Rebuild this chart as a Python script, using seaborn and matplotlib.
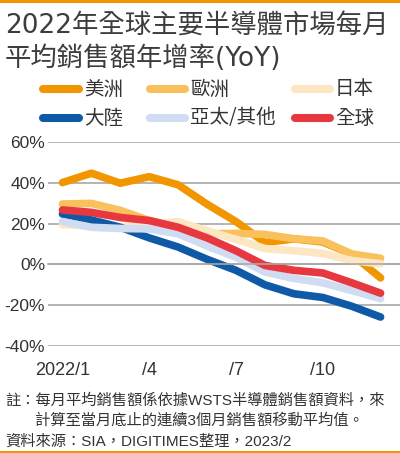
import numpy as np
import pandas as pd
import matplotlib.pyplot as plt
import matplotlib.transforms as mtransforms
from matplotlib.lines import Line2D
from matplotlib.patches import Rectangle
import seaborn as sns

# ---------------------------------------------------------------------------
# data (% YoY)
# ---------------------------------------------------------------------------
months = list(range(1, 13))
tick_months = [1, 4, 7, 10]
tick_labels = ["2022/1", "/4", "/7", "/10"]
y_ticks = [-40, -20, 0, 20, 40, 60]

regions = ["美洲", "歐洲", "日本", "大陸", "亞太/其他", "全球"]
americas = [40.1, 44.7, 39.8, 43.0, 39.0, 29.5, 21.0, 10.7, 12.5, 11.0, 5.0, -6.6]
europe = [29.6, 29.9, 26.5, 21.5, 18.5, 15.0, 15.2, 14.7, 12.6, 11.5, 5.1, 3.0]
japan = [19.5, 19.0, 18.5, 19.5, 21.0, 16.5, 12.3, 7.8, 6.7, 5.4, 1.9, 0.3]
china = [24.7, 21.8, 18.2, 13.0, 8.5, 2.5, -2.9, -10.0, -14.4, -16.2, -20.5, -25.8]
apac = [21.0, 18.2, 17.6, 17.4, 15.0, 9.0, 3.5, -3.7, -6.9, -9.0, -12.8, -16.8]
world = [26.7, 25.5, 23.0, 21.5, 18.2, 13.0, 6.7, -0.5, -2.9, -4.2, -9.0, -14.1]

palette = {
    "美洲": "#f29600",
    "歐洲": "#f8c15c",
    "日本": "#fde6c2",
    "大陸": "#0e5aa7",
    "亞太/其他": "#cfdcf1",
    "全球": "#e7373f",
}

df = pd.DataFrame({
    "month": months * len(regions),
    "region": np.repeat(regions, len(months)),
    "yoy": americas + europe + japan + china + apac + world,
})

TEXT = "#333333"
GRID = "#a8a8a8"
ORANGE = "#f29600"

sns.set_theme(style="white")
plt.rcParams["font.family"] = ["Liberation Sans", "Noto Sans CJK TC"]

W, H = 400, 453
fig = plt.figure(figsize=(W / 100, H / 100), dpi=100)

# plot area: x from 48px to right edge, y from 60% (142px) to -40% (346px)
ax = fig.add_axes([48 / W, 1 - 346 / H, 352 / W, 204 / H])

# hue order = drawing order (later lines on top)
sns.lineplot(
    data=df, x="month", y="yoy", hue="region", hue_order=regions,
    palette=palette, linewidth=5.5, legend=False, ax=ax, sort=False,
    solid_capstyle="round", solid_joinstyle="round",
)

ax.set_xlim(0.5, 0.5 + 352 / 28.92)
ax.set_ylim(-40, 60)
ax.set_xlabel("")
ax.set_ylabel("")

for side in ["top", "right", "left"]:
    ax.spines[side].set_visible(False)
ax.spines["bottom"].set_position(("data", 0))
ax.spines["bottom"].set_color(GRID)
ax.spines["bottom"].set_linewidth(1.2)

ax.set_xticks(np.arange(0.5, 13, 1))
ax.tick_params(axis="x", direction="out", length=5, width=1.2,
               color=GRID, labelbottom=False)

ax.set_yticks(y_ticks)
ax.set_yticklabels([f"{v}%" for v in y_ticks])
ax.tick_params(axis="y", length=0, pad=2, labelsize=12.5, labelcolor=TEXT)
ax.yaxis.grid(True, color=GRID, linewidth=1.2)
ax.xaxis.grid(False)
ax.set_axisbelow(True)

# month labels under the plot
trans = mtransforms.blended_transform_factory(ax.transData, ax.transAxes)
for m, lab in zip(tick_months, tick_labels):
    ax.text(m, -0.118, lab, transform=trans, ha="center", va="center",
            fontsize=13, color=TEXT)

# title
title_font = ["DejaVu Sans", "Noto Sans CJK TC"]
fig.text(5 / W, 1 - 34 / H, "2022年全球主要半導體市場每月", ha="left",
         va="baseline", fontsize=19, color="#3d3d3d", family=title_font)
fig.text(5 / W, 1 - 66 / H, "平均銷售額年增率(YoY)", ha="left",
         va="baseline", fontsize=19, color="#3d3d3d", family=title_font)

# legend, laid out like the reference (3 columns x 2 rows)
col_x = [(43, 79, 84), (150, 185, 190), (295, 330, 335)]
row_y = [89, 118]
for i, reg in enumerate(regions):
    x0, x1, xt = col_x[i % 3]
    y = 1 - row_y[i // 3] / H
    fig.add_artist(Line2D([x0 / W, x1 / W], [y, y], transform=fig.transFigure,
                          color=palette[reg], linewidth=5.8,
                          solid_capstyle="round"))
    fig.text(xt / W, y, reg, ha="left", va="center", fontsize=14,
             color=TEXT, family=["Noto Sans CJK TC"])

# notes
fig.text(5 / W, 1 - 400 / H, "註：每月平均銷售額係依據WSTS半導體銷售額資料，來",
         ha="left", va="center", fontsize=11, color=TEXT)
fig.text(35 / W, 1 - 420 / H, "計算至當月底止的連續3個月銷售額移動平均值。",
         ha="left", va="center", fontsize=11, color=TEXT)
fig.text(5 / W, 1 - 442 / H, "資料來源：SIA，DIGITIMES整理，2023/2",
         ha="left", va="center", fontsize=11, color=TEXT)

# orange rules at top and bottom
fig.add_artist(Rectangle((0, 1 - 3 / H), 1, 3 / H, transform=fig.transFigure,
                         color=ORANGE, linewidth=0))
fig.add_artist(Rectangle((0, 0), 1, 2 / H, transform=fig.transFigure,
                         color=ORANGE, linewidth=0))

fig.savefig("out.png", dpi=100)
